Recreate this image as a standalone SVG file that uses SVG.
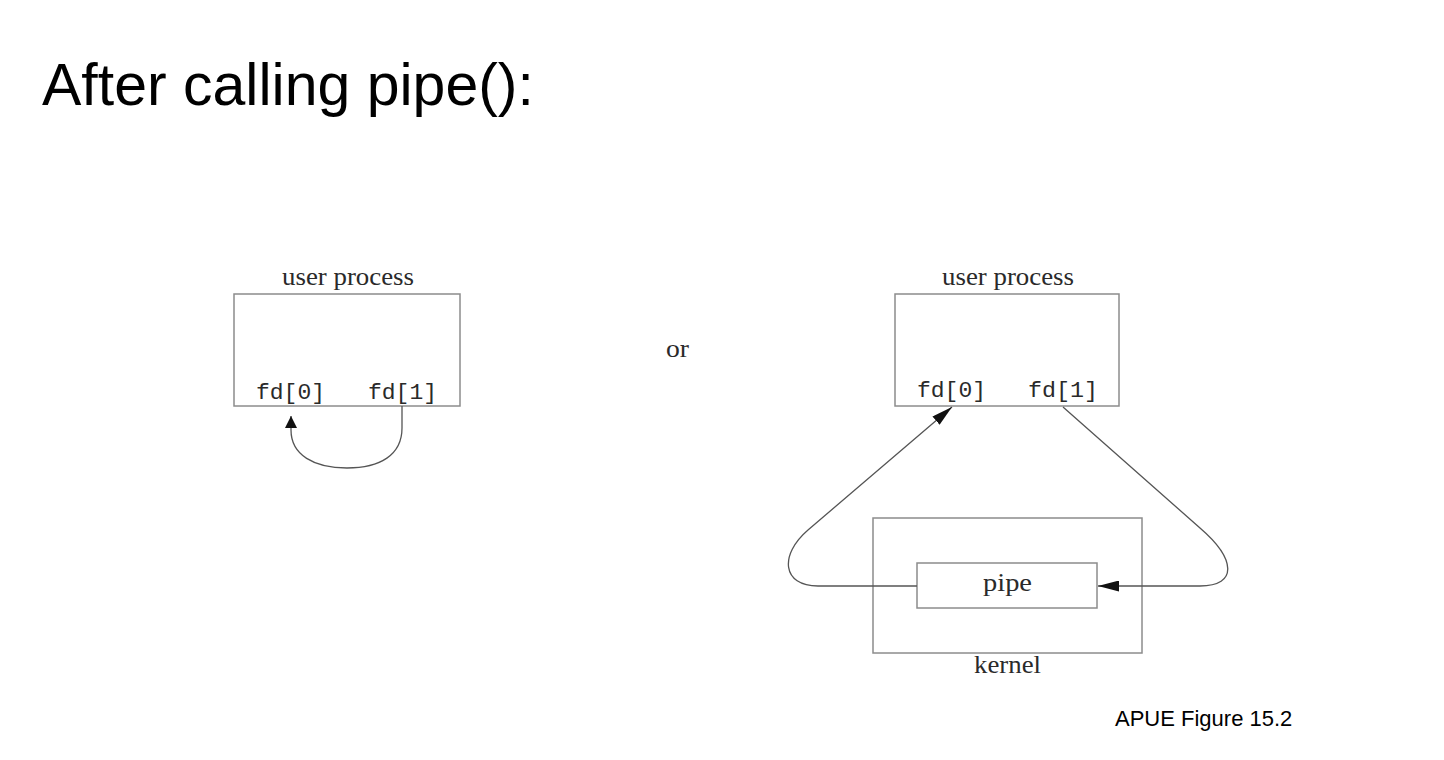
<svg xmlns="http://www.w3.org/2000/svg" width="1444" height="760" viewBox="0 0 1444 760">
  <style>
    .box { fill: none; stroke: #8c8c8c; stroke-width: 1.5; }
    .conn { fill: none; stroke: #555; stroke-width: 1.3; }
    .serif { font-family: "Liberation Serif", "Times New Roman", serif; font-size: 25px; fill: #2a2a2a; }
    .mono { font-family: "Liberation Mono", "Courier New", monospace; font-size: 22px; fill: #2a2a2a; }
    .sans { font-family: "Liberation Sans", Arial, sans-serif; fill: #000; }
  </style>
  <defs>
    <marker id="arrowSmall" markerUnits="userSpaceOnUse" markerWidth="13" markerHeight="12" refX="12" refY="6" orient="auto">
      <path d="M0,0 L12,6 L0,12 z" fill="#111"/>
    </marker>
    <marker id="arrowLong" markerUnits="userSpaceOnUse" markerWidth="22" markerHeight="11" refX="21" refY="5.5" orient="auto">
      <path d="M0,0 L21,5.5 L0,11 z" fill="#111"/>
    </marker>
  </defs>
  <rect width="1444" height="760" fill="#fff"/>

  <text class="sans" x="42" y="105" font-size="59">After calling pipe():</text>
  <text class="sans" x="1115" y="726" font-size="22">APUE Figure 15.2</text>
  <text class="serif" x="666" y="357" textLength="23" lengthAdjust="spacingAndGlyphs">or</text>

  <g id="left-process">
    <text class="serif" x="282" y="285" textLength="132" lengthAdjust="spacingAndGlyphs">user process</text>
    <rect class="box" x="234" y="294" width="226" height="112"/>
    <text class="mono" x="256" y="399" textLength="69" lengthAdjust="spacingAndGlyphs">fd[0]</text>
    <text class="mono" x="368" y="399" textLength="69" lengthAdjust="spacingAndGlyphs">fd[1]</text>
  </g>

  <g id="right-process">
    <text class="serif" x="942" y="285" textLength="132" lengthAdjust="spacingAndGlyphs">user process</text>
    <rect class="box" x="895" y="294" width="224" height="112"/>
    <text class="mono" x="917" y="397" textLength="69" lengthAdjust="spacingAndGlyphs">fd[0]</text>
    <text class="mono" x="1028" y="397" textLength="70" lengthAdjust="spacingAndGlyphs">fd[1]</text>
  </g>

  <g id="kernel">
    <rect class="box" x="873" y="518" width="269" height="135"/>
    <text class="serif" x="974" y="673" textLength="67" lengthAdjust="spacingAndGlyphs">kernel</text>
  </g>

  <g id="pipe">
    <rect class="box" x="917" y="563" width="180" height="45"/>
    <text class="serif" x="983" y="591" textLength="49" lengthAdjust="spacingAndGlyphs">pipe</text>
  </g>

  <g id="connectors">
    <path class="conn" d="M402,406 V428 C402,455 380,468 347,468 C314,468 291,455 291,430 L291,416" marker-end="url(#arrowSmall)"/>
    <path class="conn" d="M917,586 L818,586 C782,586 779,555 808,530 L952,407" marker-end="url(#arrowLong)"/>
    <path class="conn" d="M1063,407 L1200,528 C1236,559 1238,586 1200,586 L1098,586" marker-end="url(#arrowLong)"/>
  </g>
</svg>
